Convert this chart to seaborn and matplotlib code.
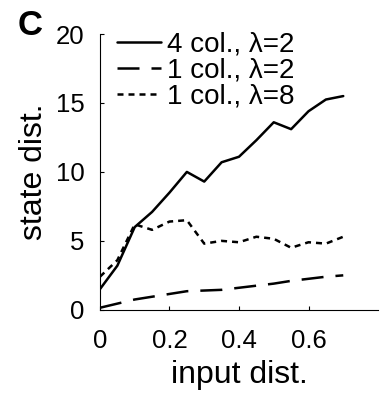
import matplotlib
matplotlib.use("Agg")
import matplotlib.pyplot as plt
import seaborn as sns
import pandas as pd

sns.set_style("ticks")
plt.rcParams['font.family'] = ['Liberation Sans', 'DejaVu Sans']
plt.rcParams.update({
    "text.color": "black", "axes.labelcolor": "black",
    "xtick.color": "black", "ytick.color": "black", "axes.edgecolor": "black",
})

x_vals = [0, 0.05, 0.1, 0.15, 0.2, 0.25, 0.3, 0.35, 0.4, 0.45, 0.5, 0.55, 0.6, 0.65, 0.7]
col4_lam2 = [1.5, 3.2, 6.0, 7.1, 8.5, 10.0, 9.3, 10.7, 11.1, 12.3, 13.6, 13.1, 14.4, 15.25, 15.5]
col1_lam2 = [0.15, 0.45, 0.75, 0.95, 1.15, 1.35, 1.4, 1.45, 1.6, 1.75, 1.9, 2.1, 2.25, 2.4, 2.5]
col1_lam8 = [2.4, 3.6, 6.2, 5.8, 6.4, 6.5, 4.8, 5.0, 4.9, 5.3, 5.15, 4.5, 4.9, 4.8, 5.3]
labels = ["4 col., λ=2", "1 col., λ=2", "1 col., λ=8"]
x_ticks = [0, 0.2, 0.4, 0.6]
x_ticklabels = ["0", "0.2", "0.4", "0.6"]
y_ticks = [0, 5, 10, 15, 20]

df = pd.DataFrame({
    "x": x_vals * 3,
    "y": col4_lam2 + col1_lam2 + col1_lam8,
    "series": [labels[0]] * len(x_vals) + [labels[1]] * len(x_vals) + [labels[2]] * len(x_vals),
})

fig = plt.figure(figsize=(3.83, 4.05), dpi=100)
ax = fig.add_axes([0.261, 0.235, 0.726, 0.681])

LW = 1.8
sns.lineplot(data=df, x="x", y="y", hue="series", style="series",
             palette=["black"] * 3,
             dashes=[(), (8.8, 4.8), (2.4, 2.0)], linewidth=LW, ax=ax, legend=True)

ax.set_xlim(0, 0.8)
ax.set_ylim(0, 20)
ax.set_xticks(x_ticks)
ax.set_xticklabels(x_ticklabels)
ax.set_yticks(y_ticks)
ax.tick_params(direction="in", length=3, width=0.8, labelsize=18.5)
ax.tick_params(axis="x", pad=14)
ax.tick_params(axis="y", pad=11)
for s in ["top", "right"]:
    ax.spines[s].set_visible(False)
for s in ["left", "bottom"]:
    ax.spines[s].set_linewidth(0.8)
ax.set_xlabel("input dist.", fontsize=23, labelpad=5)
ax.set_ylabel("state dist.", fontsize=23, labelpad=5)

leg = ax.legend(loc="upper left", frameon=False, fontsize=20, handlelength=1.6,
                handletextpad=0.2, labelspacing=0.0, borderaxespad=0.0,
                bbox_to_anchor=(0.02, 1.05))
for h in leg.get_lines():
    h.set_linewidth(LW)

fig.text(0.045, 0.978, "C", fontsize=25, fontweight="bold", va="top", ha="left")

fig.savefig("out.png", dpi=100)
